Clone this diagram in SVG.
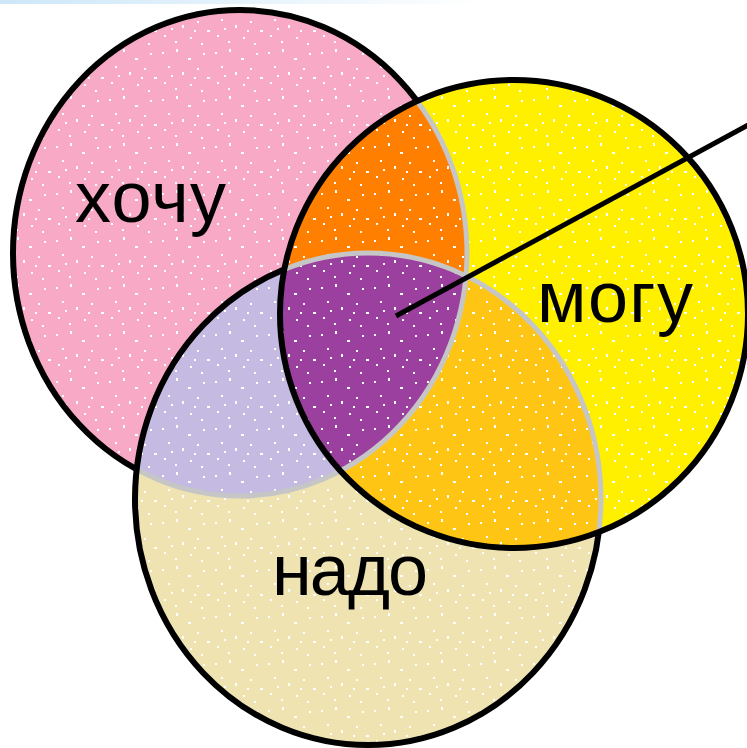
<svg xmlns="http://www.w3.org/2000/svg" xmlns:xlink="http://www.w3.org/1999/xlink" width="747" height="748" viewBox="0 0 747 748">
  <style>
    .edge { fill: none; stroke: #000; stroke-width: 6; }
    .grey { fill: none; stroke: #c6c6c6; stroke-width: 5; }
    .label { font-family: "Liberation Sans", "DejaVu Sans", sans-serif; font-size: 72px; fill: #000; }
    .speck { fill: url(#speck); }
  </style>
  <defs>
    <linearGradient id="band" x1="0" y1="0" x2="1" y2="0">
      <stop offset="0" stop-color="#cde7f8"/>
      <stop offset="0.65" stop-color="#ffffff"/>
    </linearGradient>
    <pattern id="speck" patternUnits="userSpaceOnUse" width="53" height="47">
      <g fill="#fff">
        <rect x="3" y="5" width="2" height="2"/>
        <rect x="17" y="2" width="2" height="3"/>
        <rect x="29" y="11" width="3" height="2"/>
        <rect x="44" y="6" width="2" height="2"/>
        <rect x="9" y="19" width="2" height="2"/>
        <rect x="23" y="25" width="2" height="3"/>
        <rect x="38" y="21" width="2" height="2"/>
        <rect x="48" y="30" width="3" height="2"/>
        <rect x="5" y="35" width="2" height="2"/>
        <rect x="16" y="41" width="2" height="2"/>
        <rect x="31" y="37" width="2" height="2"/>
        <rect x="42" y="43" width="2" height="2"/>
        <rect x="12" y="28" width="2" height="2"/>
        <rect x="35" y="30" width="2" height="2"/>
      </g>
    </pattern>
    <ellipse id="sP" cx="240" cy="253" rx="227" ry="243"/>
    <ellipse id="sN" cx="368" cy="499" rx="233" ry="246"/>
    <circle id="sM" cx="514" cy="314" r="234"/>
    <clipPath id="cpP"><use xlink:href="#sP"/></clipPath>
    <clipPath id="cpN"><use xlink:href="#sN"/></clipPath>
    <clipPath id="cpM"><use xlink:href="#sM"/></clipPath>
  </defs>

  <rect x="0" y="0" width="747" height="4" fill="url(#band)"/>

  <g id="khochu">
    <use xlink:href="#sP" fill="#f8a9c5"/>
    <use xlink:href="#sP" class="speck"/>
    <use xlink:href="#sP" class="edge"/>
    <text class="label" x="75" y="222" textLength="151">хочу</text>
  </g>

  <g id="nado">
    <use xlink:href="#sN" fill="#efe3b1"/>
    <g clip-path="url(#cpP)"><use xlink:href="#sN" fill="#c4bae2"/></g>
    <use xlink:href="#sN" class="speck"/>
    <g clip-path="url(#cpN)"><use xlink:href="#sP" class="grey"/></g>
    <use xlink:href="#sN" class="edge"/>
    <text class="label" x="272" y="595" textLength="156">надо</text>
  </g>

  <g id="mogu">
    <use xlink:href="#sM" fill="#fff000"/>
    <g clip-path="url(#cpM)">
      <use xlink:href="#sP" fill="#ff8000"/>
      <use xlink:href="#sN" fill="#ffc514"/>
      <g clip-path="url(#cpP)"><use xlink:href="#sN" fill="#9c40a0"/></g>
      <use xlink:href="#sM" class="speck"/>
      <use xlink:href="#sP" class="grey"/>
      <use xlink:href="#sN" class="grey"/>
    </g>
    <use xlink:href="#sM" class="edge"/>
    <text class="label" x="537" y="322" textLength="156">могу</text>
  </g>

  <g id="connectors">
    <line x1="396" y1="316" x2="750" y2="124" stroke="#000" stroke-width="5"/>
  </g>
</svg>
